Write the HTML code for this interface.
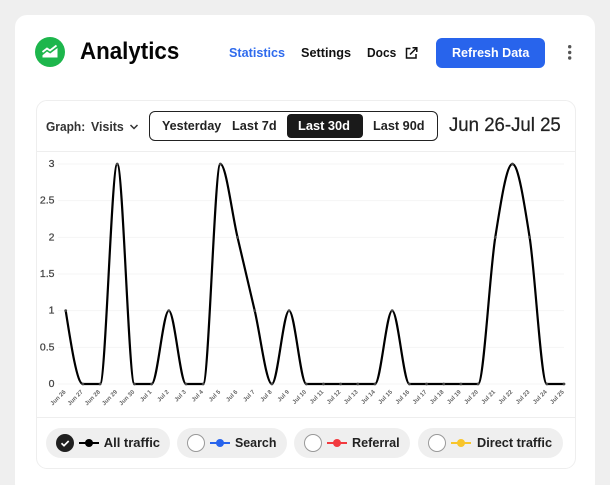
<!DOCTYPE html>
<html lang="en">
<head>
<meta charset="utf-8">
<title>Analytics</title>
<style>
html,body{margin:0;padding:0;width:610px;height:485px;overflow:hidden;background:#efefef;font-family:"Liberation Sans",sans-serif}
#stage{position:relative;width:610px;height:485px;overflow:hidden}
.abs{position:absolute;box-sizing:border-box}
.t{position:absolute;white-space:nowrap;font-weight:700;font-size:13px;line-height:20px;height:20px;transform-origin:left center;color:#111}
.pill{position:absolute;top:428px;height:30px;border-radius:15px;background:#efefef}
.radio{position:absolute;top:434px;width:18px;height:18px;border-radius:50%;background:#fff;border:1px solid #999;box-sizing:border-box}
svg{position:absolute;left:0;top:0;overflow:visible}
</style>
</head>
<body>
<div id="stage">
  <div class="abs" style="left:15px;top:15px;width:580px;height:480px;background:#fff;border-radius:12px"></div>

  <svg width="610" height="485" style="left:0;top:0">
    <g>
      <circle cx="50" cy="52" r="15" fill="#1db64c"/>
      <path d="M42.5 52 L47 48.5 L50 50.5 L56.5 45.5" fill="none" stroke="#fff" stroke-width="1.8"/>
      <path d="M42.5 57.5 V55.3 L47 51.5 L50.2 53.5 L57.5 48 V57.5 Z" fill="#fff"/>
    </g>
    <g fill="none" stroke="#111" stroke-width="1.5">
      <path d="M410.5 48.5 H406.5 V58 H416 V54"/>
      <path d="M410 54.5 L416.5 48 M412.5 47.7 H416.8 V52"/>
    </g>
    <g fill="#555">
      <circle cx="569.7" cy="46.7" r="1.7"/>
      <circle cx="569.7" cy="52.5" r="1.7"/>
      <circle cx="569.7" cy="58" r="1.7"/>
    </g>
  </svg>

  <div class="t" style="left:80px;top:41.7px;font-size:24px;color:#050505;transform:scaleX(.93)">Analytics</div>
  <div class="t" style="left:229px;top:42.8px;color:#2f6bed;transform:scaleX(.97)">Statistics</div>
  <div class="t" style="left:301px;top:42.8px;transform:scaleX(.975)">Settings</div>
  <div class="t" style="left:366.5px;top:42.8px;transform:scaleX(.92)">Docs</div>
  <div class="abs" style="left:436px;top:38px;width:109px;height:30px;border-radius:6px;background:#2864ec"></div>
  <div class="t" style="left:451.5px;top:42.8px;color:#fff;transform:scaleX(.964)">Refresh Data</div>

  <div class="abs" style="left:35.5px;top:100px;width:540px;height:369px;border:1px solid #eeeeee;border-radius:11px"></div>
  <div class="abs" style="left:36px;top:151px;width:539px;height:1px;background:#eeeeee"></div>
  <div class="abs" style="left:36px;top:417px;width:539px;height:1px;background:#eeeeee"></div>

  <div class="t" style="left:45.7px;top:116.8px;color:#333;transform:scaleX(.92)">Graph:</div>
  <div class="t" style="left:91px;top:116.8px;color:#333;transform:scaleX(.95)">Visits</div>
  <svg width="610" height="485"><path d="M130.5 125 L134 128.5 L137.5 125" fill="none" stroke="#333" stroke-width="1.5"/></svg>

  <div class="abs" style="left:149px;top:111px;width:289px;height:30px;border:1.3px solid #222;border-radius:6px;background:#fff"></div>
  <div class="abs" style="left:287px;top:114px;width:76px;height:24px;background:#1a1a1a;border-radius:4px"></div>
  <div class="t" style="left:162px;top:116.2px;color:#222;transform:scaleX(.965)">Yesterday</div>
  <div class="t" style="left:232px;top:116.2px;color:#222;transform:scaleX(.98)">Last 7d</div>
  <div class="t" style="left:298px;top:116.2px;color:#fff;transform:scaleX(.985)">Last 30d</div>
  <div class="t" style="left:373px;top:116.2px;color:#222;transform:scaleX(.977)">Last 90d</div>
  <div class="t" style="left:449px;top:116.1px;font-size:19px;font-weight:400;color:#222;transform:scaleX(.98);-webkit-text-stroke:.25px #222">Jun 26-Jul 25</div>

  <svg id="chart" width="610" height="485"></svg>

  <div class="pill" style="left:46px;width:124px"></div>
  <div class="pill" style="left:177px;width:110px"></div>
  <div class="pill" style="left:294px;width:116px"></div>
  <div class="pill" style="left:418px;width:145px"></div>

  <div class="radio" style="left:187px"></div>
  <div class="radio" style="left:304px"></div>
  <div class="radio" style="left:428px"></div>

  <svg width="610" height="485">
    <g>
      <circle cx="65" cy="443" r="9" fill="#1f1f1f"/>
      <path d="M61.5 443.3 L64 445.7 L68.7 441" fill="none" stroke="#fff" stroke-width="1.7"/>
    </g>
    <g><path d="M79 443 H99" stroke="#000" stroke-width="2"/><circle cx="89" cy="443" r="4" fill="#000"/></g>
    <g><path d="M210 443 H230" stroke="#2864ec" stroke-width="2"/><circle cx="220" cy="443" r="4" fill="#2864ec"/></g>
    <g><path d="M327 443 H347" stroke="#f23a3f" stroke-width="2"/><circle cx="337" cy="443" r="4" fill="#f23a3f"/></g>
    <g><path d="M451 443 H471" stroke="#f8c52b" stroke-width="2"/><circle cx="461" cy="443" r="4" fill="#f8c52b"/></g>
  </svg>

  <div class="t" style="left:103.7px;top:433.2px;color:#222">All traffic</div>
  <div class="t" style="left:235.3px;top:433.2px;color:#222;transform:scaleX(.955)">Search</div>
  <div class="t" style="left:352.3px;top:433.2px;color:#222;transform:scaleX(.97)">Referral</div>
  <div class="t" style="left:476.7px;top:433.2px;color:#222;transform:scaleX(.98)">Direct traffic</div>
</div>

<script>
const categories = ["Jun 26","Jun 27","Jun 28","Jun 29","Jun 30","Jul 1","Jul 2","Jul 3","Jul 4","Jul 5","Jul 6","Jul 7","Jul 8","Jul 9","Jul 10","Jul 11","Jul 12","Jul 13","Jul 14","Jul 15","Jul 16","Jul 17","Jul 18","Jul 19","Jul 20","Jul 21","Jul 22","Jul 23","Jul 24","Jul 25"];
const allTraffic = [1,0,0,3,0,0,1,0,0,3,2,1,0,1,0,0,0,0,0,1,0,0,0,0,0,2,3,2,0,0];
const yTicks = [0,0.5,1,1.5,2,2.5,3];

const svgNS = "http://www.w3.org/2000/svg";
const chart = document.getElementById("chart");
const plot = {left: 65.7, right: 564, top: 164, bottom: 384, gridLeft: 58};
const yMax = yTicks[yTicks.length - 1];

function xScale(i) {
  return plot.left + (plot.right - plot.left) * i / (categories.length - 1);
}
function yScale(v) {
  return plot.bottom - (plot.bottom - plot.top) * v / yMax;
}
function make(tag, attrs) {
  const el = document.createElementNS(svgNS, tag);
  for (const k in attrs) el.setAttribute(k, attrs[k]);
  chart.appendChild(el);
  return el;
}
function sign(v) { return v < 0 ? -1 : 1; }
function monotonePath(px, py) {
  const n = px.length;
  const m = new Array(n).fill(0);
  for (let i = 1; i < n - 1; i++) {
    const h0 = px[i] - px[i - 1], h1 = px[i + 1] - px[i];
    const s0 = (py[i] - py[i - 1]) / h0, s1 = (py[i + 1] - py[i]) / h1;
    const p = (s0 * h1 + s1 * h0) / (h0 + h1);
    m[i] = (sign(s0) + sign(s1)) * Math.min(Math.abs(s0), Math.abs(s1), 0.5 * Math.abs(p)) || 0;
  }
  m[0] = (3 * (py[1] - py[0]) / (px[1] - px[0]) - m[1]) / 2;
  m[n - 1] = (3 * (py[n - 1] - py[n - 2]) / (px[n - 1] - px[n - 2]) - m[n - 2]) / 2;
  let d = "M" + px[0] + " " + py[0];
  for (let i = 0; i < n - 1; i++) {
    const dx = (px[i + 1] - px[i]) / 3;
    d += " C" + (px[i] + dx) + " " + (py[i] + dx * m[i]) + " " + (px[i + 1] - dx) + " " + (py[i + 1] - dx * m[i + 1]) + " " + px[i + 1] + " " + py[i + 1];
  }
  return d;
}

yTicks.forEach(function (tick) {
  const y = yScale(tick);
  const grid = make("line", {x1: plot.gridLeft, x2: plot.right, y1: y, y2: y, stroke: "#f4f4f4", "stroke-width": 1});
  
  
  const label = make("text", {x: 54.5, y: y + 3, "text-anchor": "end", "font-size": 10.5, fill: "#444", stroke: "#444", "stroke-width": 0.25, "font-family": '"Liberation Sans", sans-serif'});
  label.textContent = String(tick);
  
  
});

categories.forEach(function (name, i) {
  const x = xScale(i) + 0.4;
  const y = 392.3;
  const label = make("text", {x: x, y: y, "text-anchor": "end", "font-size": 6, "font-weight": 700, fill: "#666", "font-family": '"Liberation Sans", sans-serif', transform: "rotate(-45 " + x + " " + y + ")"});
  label.textContent = name;
  
  
});

const px = allTraffic.map(function (v, i) { return xScale(i); });
const py = allTraffic.map(function (v) { return yScale(v); });
const line = make("path", {d: monotonePath(px, py), fill: "none", stroke: "#000", "stroke-width": 2.2, "stroke-linejoin": "round"});



allTraffic.forEach(function (v, i) {
  const dot = make("circle", {cx: xScale(i), cy: yScale(v), r: 1.4, fill: "#444"});
  
  
});
</script>
</body>
</html>
